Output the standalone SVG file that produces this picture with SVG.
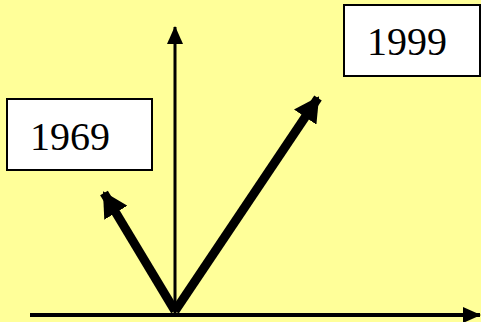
<svg xmlns="http://www.w3.org/2000/svg" width="481" height="322" viewBox="0 0 481 322">
  <style>
    .box { fill: #ffffff; stroke: #000000; stroke-width: 2; }
    .label { font-family: "Liberation Serif", "Times New Roman", serif; font-size: 40px; fill: #000000; }
    .axis { stroke: #000000; fill: none; }
    .vec { stroke: #000000; stroke-width: 9; fill: none; }
  </style>
  <defs>
    <marker id="thinHead" markerUnits="userSpaceOnUse" viewBox="0 0 18 16" markerWidth="18" markerHeight="16" refX="17" refY="8" orient="auto">
      <path d="M0,0 L18,8 L0,16 Z" fill="#000000"/>
    </marker>
    <marker id="thickHead" markerUnits="userSpaceOnUse" viewBox="0 0 25 27" markerWidth="25" markerHeight="27" refX="23" refY="13.5" orient="auto">
      <path d="M0,0 L25,13.5 L0,27 Z" fill="#000000"/>
    </marker>
  </defs>
  <rect width="481" height="322" fill="#ffff99"/>

  <g id="connectors">
    <line class="axis" x1="30" y1="315" x2="480" y2="315" stroke-width="4" marker-end="url(#thinHead)"/>
    <line class="axis" x1="175" y1="314" x2="175" y2="27" stroke-width="3" marker-end="url(#thinHead)"/>
    <line class="vec" x1="175" y1="311" x2="104" y2="193" marker-end="url(#thickHead)"/>
    <line class="vec" x1="175" y1="311" x2="318" y2="98" marker-end="url(#thickHead)"/>
  </g>

  <g id="label-1969">
    <rect class="box" x="7" y="99" width="145" height="71"/>
    <text class="label" x="30" y="150">1969</text>
  </g>

  <g id="label-1999">
    <rect class="box" x="344" y="5" width="136" height="71"/>
    <text class="label" x="367" y="55">1999</text>
  </g>
</svg>
